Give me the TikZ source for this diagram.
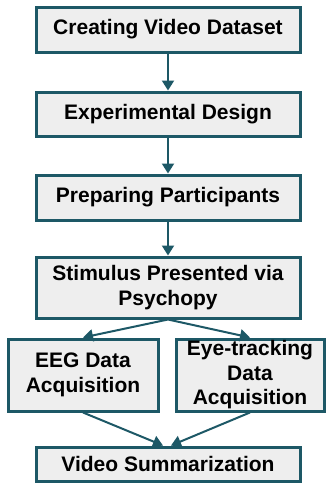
\documentclass[tikz,border=0pt]{standalone}
\usepackage{fontspec}
\setmainfont{Liberation Sans}
\usetikzlibrary{arrows.meta}
\definecolor{edge}{HTML}{1D5866}
\definecolor{boxfill}{HTML}{EEEEEE}
\tikzset{
  box/.style={draw=edge, fill=boxfill, line width=3pt, rectangle, inner sep=0pt, align=center,
    font=\fontsize{21}{24.5}\selectfont\bfseries},
  conn/.style={draw=edge, line width=2pt, -{Triangle[length=10pt,width=12pt]}}
}
\begin{document}
\begin{tikzpicture}[x=1pt,y=-1pt]
\useasboundingbox (0,0) rectangle (325,483);
\node[box, minimum width=264pt, minimum height=45pt] (a) at (168,29.5) {Creating Video Dataset};
\node[box, minimum width=264pt, minimum height=44pt] (b) at (168,114) {Experimental Design};
\node[box, minimum width=264pt, minimum height=45pt] (c) at (168,197.5) {Preparing Participants};
\node[box, minimum width=264pt, minimum height=61pt] (d) at (168,287.5) {Stimulus Presented via\\Psychopy};
\node[box, minimum width=150pt, minimum height=72pt] (e) at (83,375) {EEG Data\\Acquisition};
\node[box, minimum width=148pt, minimum height=72pt] (f) at (250,375) {Eye-tracking\\Data\\Acquisition};
\node[box, minimum width=264pt, minimum height=34pt] (g) at (168,464) {Video Summarization};
\draw[conn] (a.south) -- (b.north);
\draw[conn] (b.south) -- (c.north);
\draw[conn] (c.south) -- (d.north);
\draw[conn] (d.south) -- (e.north);
\draw[conn] (d.south) -- (f.north);
\draw[conn] (e.south) -- ([xshift=-5pt]g.north);
\draw[conn] (f.south) -- ([xshift=3pt]g.north);
\end{tikzpicture}
\end{document}
